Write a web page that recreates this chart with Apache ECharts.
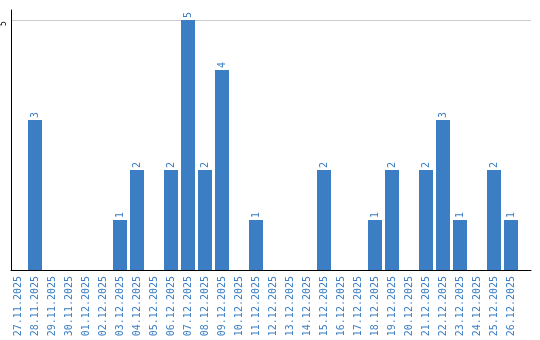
<!DOCTYPE html>
<html><head><meta charset="utf-8">
<script src="https://cdn.jsdelivr.net/npm/echarts@6/dist/echarts.min.js"></script>
<style>html,body{margin:0;padding:0;background:#fff}#c{width:540px;height:340px}</style>
</head><body><div id="c"></div>
<script>
const categories = ['27.11.2025','28.11.2025','29.11.2025','30.11.2025','01.12.2025','02.12.2025','03.12.2025','04.12.2025','05.12.2025','06.12.2025','07.12.2025','08.12.2025','09.12.2025','10.12.2025','11.12.2025','12.12.2025','13.12.2025','14.12.2025','15.12.2025','16.12.2025','17.12.2025','18.12.2025','19.12.2025','20.12.2025','21.12.2025','22.12.2025','23.12.2025','24.12.2025','25.12.2025','26.12.2025'];
const counts = [0,3,0,0,0,0,1,2,0,2,5,2,4,0,1,0,0,0,2,0,0,1,2,0,2,3,1,0,2,1];
const yTicks = [5];

const blue = '#3b7ec3';
const mono = 'DejaVu Sans Mono';
const chart = echarts.init(document.getElementById('c'), null, {renderer:'canvas'});
chart.setOption({
  animation: false,
  grid: [
    {left: 9.5, top: 10, width: 510, height: 260},
    {left: 10, top: 10, width: 521, height: 260}
  ],
  xAxis: [
    {type:'category', gridIndex:0, data: categories,
     axisLine:{show:false}, axisTick:{show:false},
     axisLabel:{rotate:90, interval:0, margin:6, fontSize:10, fontFamily:mono, color:blue}},
    {type:'value', gridIndex:1, min:0, max:1,
     axisLine:{show:true, lineStyle:{color:'#000', width:1}}, axisTick:{show:false},
     axisLabel:{show:false}, splitLine:{show:false}}
  ],
  yAxis: [
    {type:'value', gridIndex:0, min:0, max:5.2, show:false},
    {type:'value', gridIndex:1, min:0, max:5.2, interval:5,
     axisLine:{show:true, lineStyle:{color:'#000', width:1}}, axisTick:{show:false},
     axisLabel:{rotate:90, margin:3, fontSize:8, fontFamily:mono, color:'#000',
       padding:[0,7,0,0],
       formatter: v => yTicks.indexOf(v) >= 0 ? String(v) : ''},
     splitLine:{show:true, lineStyle:{color:['rgba(0,0,0,0)','#cccccc','rgba(0,0,0,0)'], width:1}}}
  ],
  series: [{
    type:'bar', xAxisIndex:0, yAxisIndex:0, data: counts,
    barWidth: 14,
    itemStyle:{color: blue},
    label:{show:true, position:'top', rotate:90, align:'left', verticalAlign:'middle',
      distance:2, fontSize:10, fontFamily:mono, color:blue,
      formatter: p => p.value ? String(p.value) : ''}
  }]
});
</script></body></html>
